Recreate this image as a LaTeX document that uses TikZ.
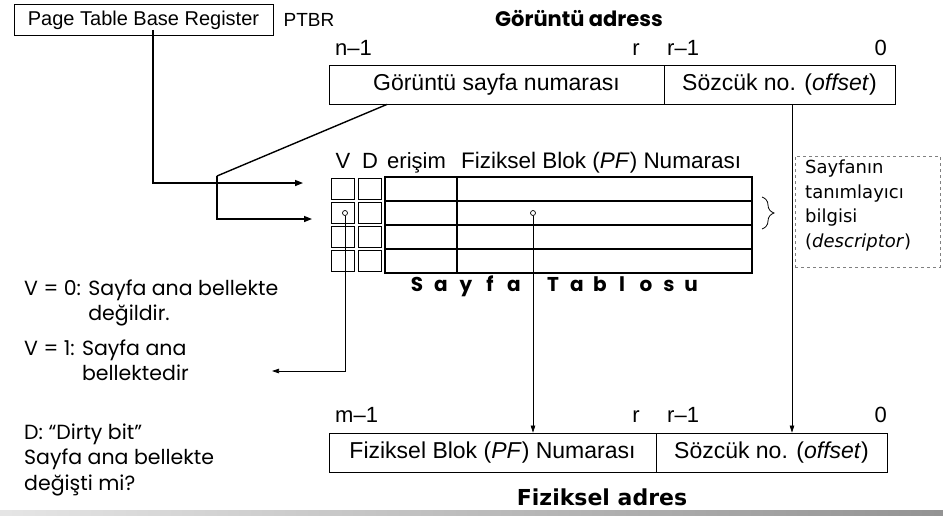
\documentclass[tikz,border=0pt]{standalone}
\usepackage{fontspec}
\setmainfont{Liberation Sans}
\newfontfamily\comicfont{Poppins}
\newfontfamily\tahomafont{DejaVu Sans}
\usetikzlibrary{arrows.meta,decorations.pathreplacing}

\begin{document}
\begin{tikzpicture}[x=1pt,y=-1pt,
	box/.style={draw,rectangle,line width=0.8pt,inner sep=0pt,font=\fontsize{23}{25}\selectfont},
	cell/.style={draw,rectangle,line width=1.2pt,inner sep=0pt},
	bitcell/.style={draw,rectangle,line width=0.7pt,inner sep=0pt,minimum width=23pt,minimum height=21.5pt},
	lbl/.style={inner sep=0pt,font=\fontsize{22}{24}\selectfont},
	comic/.style={inner sep=0pt,anchor=base west,font=\comicfont\fontsize{20.5}{24}\selectfont},
	letter/.style={inner sep=0pt,anchor=base,font=\comicfont\bfseries\fontsize{20}{24}\selectfont},
	link/.style={line width=1.4pt,-{Triangle[length=8pt,width=6pt]}},
	ptr/.style={line width=0.7pt,-{Triangle[length=7pt,width=4.5pt]}},
	dot/.style={draw,circle,fill=white,line width=0.7pt,inner sep=0pt,minimum size=5pt}]
				\useasboundingbox (0,0) rectangle (943,515);
				%% register on top left
				\node[box,minimum width=259pt,minimum height=31pt,font=\fontsize{20}{22}\selectfont] (ptbr) at (143.5,20) {Page Table Base Register};
				\node[lbl,font=\fontsize{19}{21}\selectfont] (ptbrname) at (309,20) {PTBR};
				%% virtual address
				\node[inner sep=0pt,font=\comicfont\bfseries\fontsize{21}{24}\selectfont] (vtitle) at (579,18) {Görüntü adress};
				\node[box,minimum width=335pt,minimum height=39pt] (vpn) at (496.5,84.5) {Görüntü sayfa numarası};
				\node[box,minimum width=231pt,minimum height=39pt] (voff) at (779.5,84.5) {Sözcük no. (\textit{offset})};
				\node[lbl,anchor=base west] (vn) at (335,55) {n–1};
				\node[lbl,anchor=base east] (vr) at (640,55) {r};
				\node[lbl,anchor=base west] (vr1) at (667,55) {r–1};
				\node[lbl,anchor=base east] (v0) at (887,55) {0};
				%% column heads of the table
				\node[lbl,anchor=base] (hv) at (343,168) {V};
				\node[lbl,anchor=base] (hd) at (370,168) {D};
				\node[lbl,anchor=base west] (ha) at (387,168) {erişim};
				\node[lbl,anchor=base west,font=\fontsize{22.5}{24}\selectfont] (hf) at (461,168) {Fiziksel Blok (\textit{PF}) Numarası};
				%% table rows drawn with a loop
				\foreach \r in {0,1,2,3}{
					\node[bitcell] (v\r) at (343,189+24*\r) {};
					\node[bitcell] (d\r) at (370,189+24*\r) {};
					\node[cell,minimum width=72pt,minimum height=24pt] (a\r) at (421,189+24*\r) {};
					\node[cell,minimum width=295pt,minimum height=24pt] (f\r) at (604.5,189+24*\r) {};
					}
				\foreach \ch/\xx [count=\i] in {S/417,a/441,y/466,f/490,a/514,T/553,a/577,b/600,l/622,o/646,s/669,u/691}{
					\node[letter] (t\i) at (\xx,291) {\ch};
					}
				\node[dot] (vdot) at (345,213) {};
				\node[dot] (fdot) at (533,213) {};
				%% brace and descriptor note
				\draw[line width=0.8pt,decorate,decoration={brace,amplitude=12pt}] (762,197) -- (762,229);
				\node[draw,dashed,gray,line width=0.7pt,minimum width=145pt,minimum height=111pt,inner sep=0pt] (desc) at (867.5,211.5) {};
				\node[inner sep=0pt,text width=132pt,align=left,anchor=north west,text=black,
					font=\tahomafont\fontsize{18}{24.5}\selectfont] (desctext) at (805,160) {Sayfanın\\tanımlayıcı\\bilgisi\\(\textit{descriptor})};
				%% physical address
				\node[box,minimum width=327pt,minimum height=39pt] (pfn) at (492.5,452.5) {Fiziksel Blok (\textit{PF}) Numarası};
				\node[box,minimum width=231pt,minimum height=39pt] (poff) at (771.5,452.5) {Sözcük no. (\textit{offset})};
				\node[lbl,anchor=base west] (pm) at (335,422) {m–1};
				\node[lbl,anchor=base east] (pr) at (640,422) {r};
				\node[lbl,anchor=base west] (pr1) at (667,422) {r–1};
				\node[lbl,anchor=base east] (p0) at (887,422) {0};
				\node[inner sep=0pt,font=\tahomafont\bfseries\fontsize{22}{24}\selectfont] (ptitle) at (602,497) {Fiziksel adres};
				%% notes on the left
				\node[comic] (n1) at (24,295) {V = 0: Sayfa ana bellekte};
				\node[comic] (n2) at (24,320) {\phantom{V = 0: }değildir.};
				\node[comic] (n3) at (24,355) {V = 1: Sayfa ana};
				\node[comic] (n4) at (24,380) {\phantom{V = 1: }bellektedir};
				\node[comic] (n5) at (24,439) {D: “Dirty bit”};
				\node[comic] (n6) at (24,464) {Sayfa ana bellekte};
				\node[comic] (n7) at (24,490) {değişti mi?};
				%% free ends of the arrows
				\coordinate (in0) at (303,183);
				\coordinate (bend) at (217,176);
				\coordinate (in1) at (312,219);
				\coordinate (vout) at (272,371);
				%% connectors
				\draw[link] ([xshift=9.5pt,yshift=6pt]ptbr.south) |- (in0);
				\draw[line width=1.4pt] ([xshift=-109.5pt]vpn.south) -- (bend);
				\draw[link] (bend) |- (in1);
				\draw[ptr] (vdot) |- (vout);
				\draw[ptr] (fdot) -- (fdot |- pfn.north);
				\draw[ptr] ([xshift=12.5pt]voff.south) -- ([xshift=20.5pt]poff.north);
				%% grey bar at the bottom
				\shade[left color=gray!20,right color=gray!85] (0,510) rectangle (943,515);
				\end{tikzpicture}
\end{document}
